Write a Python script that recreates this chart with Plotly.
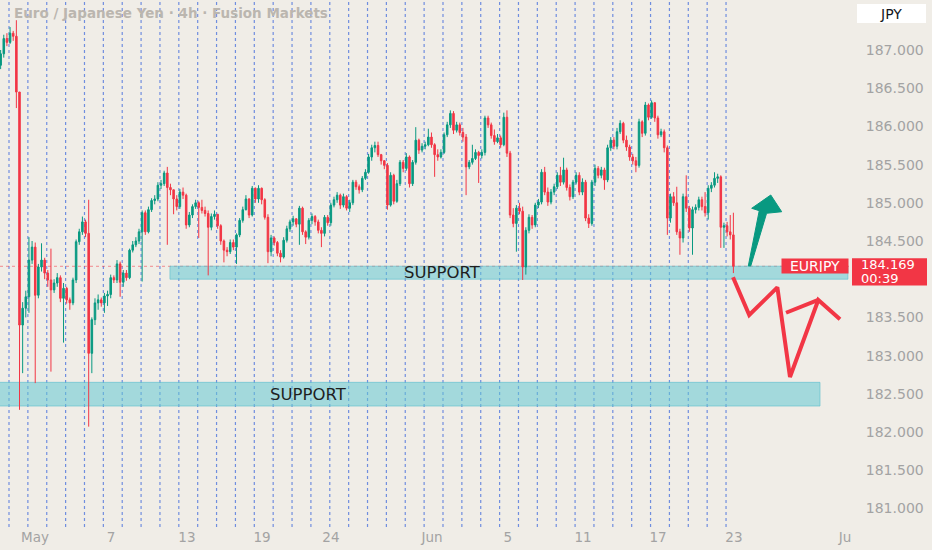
import plotly.graph_objects as go

# ---------------- data (EURJPY 4h) ----------------
FIRST_OPEN = 186.80
CLOSES = [
    186.95, 187.15, 187.10, 187.22, 187.18, 186.45, 183.40, 183.62, 183.77, 184.25,
    184.42, 183.79, 184.16, 184.25, 184.08, 183.99, 183.86, 183.95, 184.02, 183.75,
    183.88, 183.73, 183.69, 183.99, 184.49, 184.62, 184.75, 184.60, 183.03, 183.47,
    183.69, 183.73, 183.69, 183.78, 183.80, 184.02, 183.99, 184.20, 183.96, 184.08,
    184.02, 184.38, 184.45, 184.50, 184.62, 184.87, 184.62, 184.91, 185.03, 185.05,
    185.23, 185.25, 185.39, 185.20, 185.17, 185.05, 184.95, 185.14, 185.10, 184.71,
    184.84, 184.95, 185.00, 184.94, 184.90, 184.86, 184.68, 184.82, 184.85, 184.70,
    184.50, 184.38, 184.36, 184.48, 184.42, 184.58, 184.77, 184.91, 185.05, 184.84,
    185.19, 185.05, 185.19, 185.04, 184.81, 184.36, 184.54, 184.48, 184.34, 184.29,
    184.51, 184.66, 184.75, 184.79, 184.72, 184.93, 184.62, 184.55, 184.77, 184.82,
    184.75, 184.64, 184.60, 184.81, 184.74, 184.97, 185.04, 185.10, 184.97, 185.08,
    184.93, 185.00, 185.27, 185.21, 185.17, 185.32, 185.40, 185.60, 185.72, 185.75,
    185.63, 185.55, 185.49, 184.97, 185.36, 185.02, 185.25, 185.53, 185.45, 185.60,
    185.25, 185.53, 185.82, 185.69, 185.74, 185.76, 185.86, 185.76, 185.63, 185.60,
    185.66, 185.89, 186.02, 186.17, 185.95, 186.02, 185.92, 185.86, 185.47, 185.53,
    185.58, 185.66, 185.62, 185.66, 186.11, 186.02, 185.88,
    185.80, 185.85, 185.76, 186.12, 185.65, 184.84, 184.73, 184.93, 184.89, 184.16,
    184.64, 184.81, 184.71, 184.97, 185.01, 185.40, 185.14, 185.01, 185.14, 185.21,
    185.36, 185.27, 185.43, 185.20, 185.08, 185.27, 185.36, 185.14, 185.27, 184.80,
    184.73, 185.27, 185.45, 185.36, 185.43, 185.30, 185.72, 185.82, 185.74, 185.93,
    186.04,
    185.82, 185.73, 185.60, 185.55, 185.49, 186.06, 185.91, 186.28, 186.12, 186.31,
    186.11, 185.89, 185.93, 185.72, 184.80, 185.08, 185.00, 184.62, 184.54, 185.08,
    184.93, 184.67, 184.91, 184.94, 185.04, 184.95, 184.87, 185.19, 185.23, 185.32,
    185.34, 184.68, 184.70, 184.62, 184.58, 184.169,
]
HIGHS = [
    187.00, 187.20, 187.22, 187.30, 187.25, 187.39, 186.45, 183.70, 183.85, 184.55,
    184.50, 184.48, 184.20, 184.47, 184.28, 184.12, 184.40, 184.00, 184.08, 184.05,
    183.95, 183.90, 183.76, 184.02, 184.52, 184.66, 184.82, 184.78, 185.04, 183.50,
    183.75, 183.80, 183.76, 183.82, 183.85, 184.06, 184.05, 184.25, 184.23, 184.12,
    184.12, 184.40, 184.50, 184.55, 184.66, 184.90, 184.90, 184.95, 185.06, 185.10,
    185.27, 185.30, 185.42, 185.47, 185.25, 185.15, 185.10, 185.18, 185.20, 185.12,
    184.88, 184.98, 185.04, 185.02, 185.04, 184.95, 184.90, 184.86, 184.90, 184.85,
    184.72, 184.52, 184.42, 184.52, 184.52, 184.60, 184.80, 184.95, 185.10, 185.06,
    185.22, 185.20, 185.23, 185.20, 185.06, 184.85, 184.58, 184.56, 184.50, 184.38,
    184.55, 184.70, 184.78, 184.83, 184.80, 184.96, 184.95, 184.64, 184.80, 184.86,
    184.84, 184.78, 184.68, 184.84, 184.84, 185.00, 185.08, 185.14, 185.12, 185.12,
    185.10, 185.04, 185.30, 185.30, 185.24, 185.35, 185.44, 185.64, 185.76, 185.80,
    185.80, 185.64, 185.56, 185.52, 185.40, 185.38, 185.30, 185.56, 185.56, 185.65,
    185.62, 185.56, 185.99, 185.84, 185.78, 185.80, 185.97, 185.92, 185.78, 185.70,
    185.70, 185.92, 186.06, 186.21, 186.20, 186.06, 186.05, 185.98, 185.90, 185.56,
    185.76, 185.70, 185.68, 185.70, 186.14, 186.14, 186.05,
    185.96, 185.90, 185.88, 186.18, 186.21, 185.68, 184.93, 184.97, 185.00, 184.95,
    184.68, 184.85, 184.84, 185.00, 185.05, 185.44, 185.47, 185.20, 185.18, 185.25,
    185.40, 185.47, 185.59, 185.46, 185.24, 185.30, 185.40, 185.40, 185.32, 185.30,
    184.85, 185.30, 185.50, 185.48, 185.47, 185.46, 185.76, 185.86, 185.86, 185.98,
    186.08,
    186.06, 185.88, 185.76, 185.64, 185.60, 186.10, 186.08, 186.32, 186.30, 186.34,
    186.30, 186.14, 185.97, 185.96, 185.75, 185.12, 185.14, 185.21, 184.66, 185.12,
    185.36, 184.96, 184.95, 184.98, 185.08, 185.08, 185.14, 185.23, 185.27, 185.40,
    185.38, 185.36, 184.74, 184.75, 184.84, 184.87,
]
LOWS = [
    186.75, 186.90, 187.05, 187.08, 187.12, 186.24, 182.29, 182.77, 183.50, 183.56,
    184.20, 182.64, 183.75, 184.10, 184.00, 183.90, 182.79, 183.82, 183.90, 183.70,
    183.17, 183.68, 183.60, 183.66, 183.95, 184.45, 184.58, 184.55, 182.07, 182.77,
    183.40, 183.60, 183.64, 183.56, 183.65, 183.75, 183.95, 183.95, 183.77, 183.90,
    183.98, 184.00, 184.35, 184.42, 184.46, 183.97, 184.58, 184.60, 184.88, 184.98,
    185.02, 185.18, 185.22, 184.45, 185.10, 184.85, 184.90, 184.92, 185.05, 184.66,
    184.68, 184.80, 184.92, 184.54, 184.86, 184.82, 184.05, 184.64, 184.78, 184.66,
    184.45, 184.22, 184.30, 184.33, 184.38, 184.20, 184.55, 184.74, 184.90, 184.80,
    184.82, 185.00, 185.00, 184.98, 184.78, 184.21, 184.30, 184.44, 184.30, 184.22,
    184.27, 184.48, 184.62, 184.70, 184.68, 184.45, 184.58, 184.46, 184.52, 184.72,
    184.70, 184.60, 184.42, 184.56, 184.70, 184.70, 184.94, 185.00, 184.92, 184.94,
    184.90, 184.88, 184.97, 185.17, 185.12, 185.14, 185.30, 185.38, 185.55, 185.66,
    185.60, 185.50, 185.44, 184.91, 184.95, 184.98, 185.00, 185.22, 185.40, 185.42,
    185.20, 185.22, 185.50, 185.64, 185.66, 185.70, 185.74, 185.72, 185.34, 185.55,
    185.58, 185.64, 185.86, 185.98, 185.90, 185.92, 185.88, 185.80, 185.10, 185.44,
    185.50, 185.56, 185.26, 185.58, 185.62, 185.98, 185.84,
    185.76, 185.78, 185.72, 185.74, 185.60, 184.80, 184.68, 184.36, 184.85, 183.99,
    184.06, 184.60, 184.66, 184.68, 184.93, 184.98, 185.10, 184.96, 184.98, 185.10,
    185.18, 185.22, 185.24, 185.16, 185.03, 185.05, 185.24, 185.10, 185.10, 184.76,
    184.67, 184.70, 185.22, 185.32, 185.32, 185.17, 185.27, 185.68, 185.70, 185.70,
    185.90,
    185.78, 185.68, 185.55, 185.50, 185.40, 185.46, 185.86, 185.88, 186.08, 186.10,
    186.06, 185.84, 185.86, 185.66, 184.58, 184.74, 184.96, 184.58, 184.32, 184.48,
    184.88, 184.62, 184.32, 184.86, 184.90, 184.90, 184.82, 184.78, 185.14, 185.20,
    185.26, 184.41, 184.41, 184.56, 184.52, 184.08,
]

CANDLES_PER_DAY = 6
LAST_CANDLE_DAY = 38.39          # position of the last candle (trading-day units)
SESSION_LINE_DAYS = list(range(0, 39))
TICK_DAYS = [1.38, 5.41, 9.43, 13.41, 17.06, 22.42, 26.44, 30.42, 34.40, 38.42, 44.30]
TICK_TEXT = ["May", "7", "13", "19", "24", "Jun", "5", "11", "17", "23", "Ju"]
PRICE_TICKS = [181.0, 181.5, 182.0, 182.5, 183.0, 183.5, 184.5,
               185.0, 185.5, 186.0, 186.5, 187.0]

# support zones: day start, day end, price low, price high
SUPPORT_UPPER = [8.53, 44.46, 184.00, 184.17]
SUPPORT_LOWER = [-0.6, 42.98, 182.34, 182.65]
SUPPORT_UPPER_LABEL = [23.0, 184.085]
SUPPORT_LOWER_LABEL = [15.85, 182.495]

# hand-drawn projections
ARROW_UP_DAY = [39.18, 39.76, 39.36, 40.37, 40.95, 40.15, 39.31, 39.18]
ARROW_UP_PRICE = [184.173, 184.897, 184.928, 185.102, 184.883, 184.863, 184.173, 184.173]
ZIGZAG_DAY = [38.37, 39.23, 40.72, 41.39, 42.89, 44.04]
ZIGZAG_PRICE = [184.025, 183.531, 183.894, 182.72, 183.728, 183.475]
WING_DAY = [41.18, 42.89]
WING_PRICE = [183.561, 183.728]

X_RANGE = [-0.477, 44.57]
Y_RANGE = [180.7565, 187.6545]

# ---------------- styling ----------------
BG = "#f0ede7"
GREEN = "#089981"
RED = "#f23645"
AXIS_TXT = "#a3a3a3"
FONT = "DejaVu Sans"

N = len(CLOSES)
OPENS = [FIRST_OPEN] + CLOSES[:-1]
CANDLE_DAY = [LAST_CANDLE_DAY - (N - 1 - j) / CANDLES_PER_DAY for j in range(N)]
LAST = CLOSES[-1]


def ypaper(price):
    return (price - Y_RANGE[0]) / (Y_RANGE[1] - Y_RANGE[0])


fig = go.Figure()

fig.add_trace(go.Candlestick(
    x=CANDLE_DAY, open=OPENS, high=HIGHS, low=LOWS, close=CLOSES,
    increasing=dict(line=dict(color=GREEN, width=1), fillcolor=GREEN),
    decreasing=dict(line=dict(color=RED, width=1), fillcolor=RED),
    whiskerwidth=0, hoverinfo="skip", showlegend=False,
))

fig.add_trace(go.Scatter(
    x=ARROW_UP_DAY, y=ARROW_UP_PRICE, mode="lines", fill="toself",
    fillcolor=GREEN, line=dict(color=GREEN, width=1),
    hoverinfo="skip", showlegend=False,
))
fig.add_trace(go.Scatter(
    x=ZIGZAG_DAY, y=ZIGZAG_PRICE, mode="lines",
    line=dict(color=RED, width=4), hoverinfo="skip", showlegend=False,
))
fig.add_trace(go.Scatter(
    x=WING_DAY, y=WING_PRICE, mode="lines",
    line=dict(color=RED, width=4), hoverinfo="skip", showlegend=False,
))

shapes = []
for zone in (SUPPORT_UPPER, SUPPORT_LOWER):
    shapes.append(dict(
        type="rect", xref="x", yref="y", x0=zone[0], x1=zone[1], y0=zone[2], y1=zone[3],
        fillcolor="rgba(100,200,212,0.55)", line=dict(color="rgba(90,190,205,0.6)", width=1),
        layer="below",
    ))
for d in SESSION_LINE_DAYS:
    shapes.append(dict(
        type="line", xref="x", yref="paper", x0=d, x1=d, y0=0, y1=1,
        line=dict(color="rgba(70,110,220,0.75)", width=1.2, dash="3px,3px"),
        layer="below",
    ))
shapes.append(dict(
    type="line", xref="paper", yref="y", x0=0, x1=1, y0=LAST, y1=LAST,
    line=dict(color="rgba(242,54,69,0.55)", width=1, dash="dot"), layer="below",
))
# last price box on the price scale
shapes.append(dict(
    type="rect", xref="paper", yref="paper",
    x0=852 / 850, x1=927 / 850, y0=ypaper(LAST - 0.25), y1=ypaper(LAST + 0.105),
    fillcolor=RED, line=dict(width=0), layer="above",
))
# JPY currency box
shapes.append(dict(
    type="rect", xref="paper", yref="paper",
    x0=857 / 850, x1=926 / 850, y0=1 - 23 / 527, y1=1 - 4 / 527,
    fillcolor="#ffffff", line=dict(width=0), layer="above",
))

annotations = [
    dict(xref="paper", yref="paper", x=12 / 850, y=1 - 13 / 527, xanchor="left",
         yanchor="middle", showarrow=False,
         text="Euro / Japanese Yen · 4h · Fusion Markets",
         font=dict(family=FONT, size=13.5, color="#bbb6af", weight="bold")),
    dict(xref="paper", yref="paper", x=891 / 850, y=1 - 13.5 / 527, xanchor="center",
         yanchor="middle", showarrow=False, text="JPY",
         font=dict(family=FONT, size=14, color="#131722")),
    dict(xref="x", yref="y", x=SUPPORT_UPPER_LABEL[0], y=SUPPORT_UPPER_LABEL[1],
         showarrow=False, text="SUPPORT",
         font=dict(family=FONT, size=16.5, color="#1f1f1f")),
    dict(xref="x", yref="y", x=SUPPORT_LOWER_LABEL[0], y=SUPPORT_LOWER_LABEL[1],
         showarrow=False, text="SUPPORT",
         font=dict(family=FONT, size=16.5, color="#1f1f1f")),
    dict(xref="paper", yref="y", x=849 / 850, y=LAST, xanchor="right",
         yanchor="middle", showarrow=False, text="EURJPY", bgcolor=RED,
         width=64, height=12, borderpad=1,
         font=dict(family=FONT, size=14, color="#ffffff")),
    dict(xref="paper", yref="y", x=859 / 850, y=LAST + 0.02, xanchor="left",
         yanchor="middle", showarrow=False, text=f"{LAST:.3f}",
         font=dict(family=FONT, size=13, color="#ffffff")),
    dict(xref="paper", yref="y", x=859 / 850, y=LAST - 0.165, xanchor="left",
         yanchor="middle", showarrow=False, text="00:39",
         font=dict(family=FONT, size=13, color="#ffffff")),
]

fig.update_layout(
    width=932, height=550,
    margin=dict(l=0, r=82, t=0, b=23),
    paper_bgcolor=BG, plot_bgcolor=BG,
    showlegend=False,
    shapes=shapes, annotations=annotations,
    xaxis=dict(
        range=X_RANGE, rangeslider=dict(visible=False),
        showgrid=False, zeroline=False, showline=False,
        tickmode="array", tickvals=TICK_DAYS, ticktext=TICK_TEXT,
        ticks="", tickfont=dict(family=FONT, size=13.5, color=AXIS_TXT),
    ),
    yaxis=dict(
        range=Y_RANGE, side="right",
        showgrid=False, zeroline=False, showline=False,
        tickmode="array", tickvals=PRICE_TICKS,
        ticktext=[f"{p:.3f}" for p in PRICE_TICKS],
        ticks="outside", ticklen=12, tickcolor="rgba(0,0,0,0)",
        tickfont=dict(family=FONT, size=14, color=AXIS_TXT),
    ),
)

fig.write_html(
    "out.html",
    config={"displayModeBar": False, "staticPlot": True},
    post_script="document.body.style.margin='0px';document.body.style.background='" + BG + "';",
)
